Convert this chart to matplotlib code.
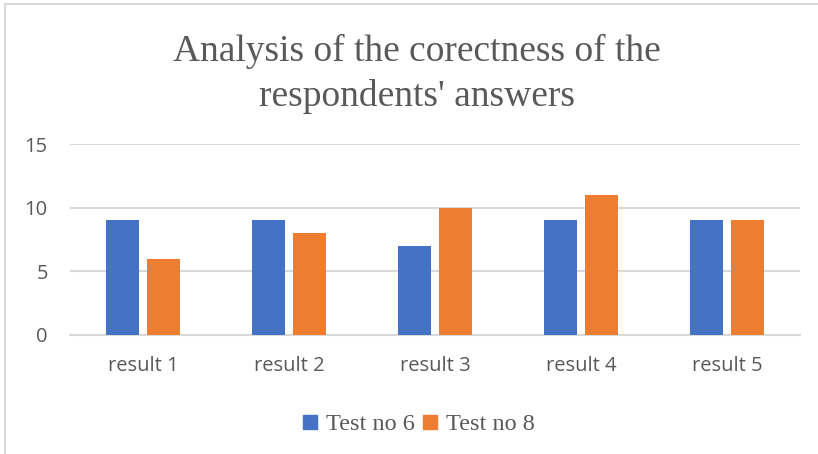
import matplotlib.pyplot as plt
import numpy as np
from matplotlib.lines import Line2D

# data
categories = ['result 1', 'result 2', 'result 3', 'result 4', 'result 5']
test6 = [9, 9, 7, 9, 9]
test8 = [6, 8, 10, 11, 9]
series_names = ['Test no 6', 'Test no 8']

BLUE = '#4472C4'
ORANGE = '#ED7D31'
GRID = '#D9D9D9'
TEXT = '#595959'

fig = plt.figure(figsize=(8.18, 4.54), dpi=100)
W, H = 818, 454

# plot area in pixel coordinates (left, top, right, bottom)
L, T, R, B = 70, 144, 800, 335
ax = fig.add_axes([L / W, 1 - B / H, (R - L) / W, (B - T) / H])

x = np.arange(len(categories))
bw = 0.224
off = 0.142
ax.bar(x - off, test6, bw, color=BLUE, zorder=3)
ax.bar(x + off, test8, bw, color=ORANGE, zorder=3)

ax.set_xlim(-0.5, len(categories) - 0.5)
ax.set_ylim(0, 15)
ax.set_yticks([0, 5, 10, 15])
ax.yaxis.grid(True, color=GRID, linewidth=1.5, zorder=0)
ax.set_xticks(x)
ax.set_xticklabels(categories)

for s in ['top', 'right', 'left']:
    ax.spines[s].set_visible(False)
ax.spines['bottom'].set_color(GRID)
ax.spines['bottom'].set_linewidth(1.5)
ax.tick_params(length=0, labelsize=14.5, labelcolor=TEXT)
ax.tick_params(axis='x', pad=15)
ax.tick_params(axis='y', pad=16)
for lab in ax.get_xticklabels() + ax.get_yticklabels():
    lab.set_fontfamily('Open Sans')

# title
fig.text(417 / W, 1 - 74 / H, "Analysis of the corectness of the\nrespondents' answers",
         ha='center', va='center', fontsize=27, color=TEXT,
         family='Liberation Serif', linespacing=1.38)

# legend
handles = [Line2D([], [], marker='s', linestyle='none', markersize=9.5, color=BLUE),
           Line2D([], [], marker='s', linestyle='none', markersize=9.5, color=ORANGE)]
fig.legend(handles, series_names, loc='center', bbox_to_anchor=(418 / W, 1 - 424 / H),
           ncol=2, frameon=False, handlelength=0.7, handletextpad=0.3, columnspacing=0.3,
           prop={'family': 'Liberation Serif', 'size': 17.5}, labelcolor=TEXT)

# chart frame (top and left edges visible)
fig.add_artist(Line2D([5 / W, 5 / W], [0, 1 - 4 / H], color=GRID, linewidth=1.5))
fig.add_artist(Line2D([5 / W, 1], [1 - 4 / H, 1 - 4 / H], color=GRID, linewidth=1.5))

plt.savefig('out.png', dpi=100, facecolor='white')
